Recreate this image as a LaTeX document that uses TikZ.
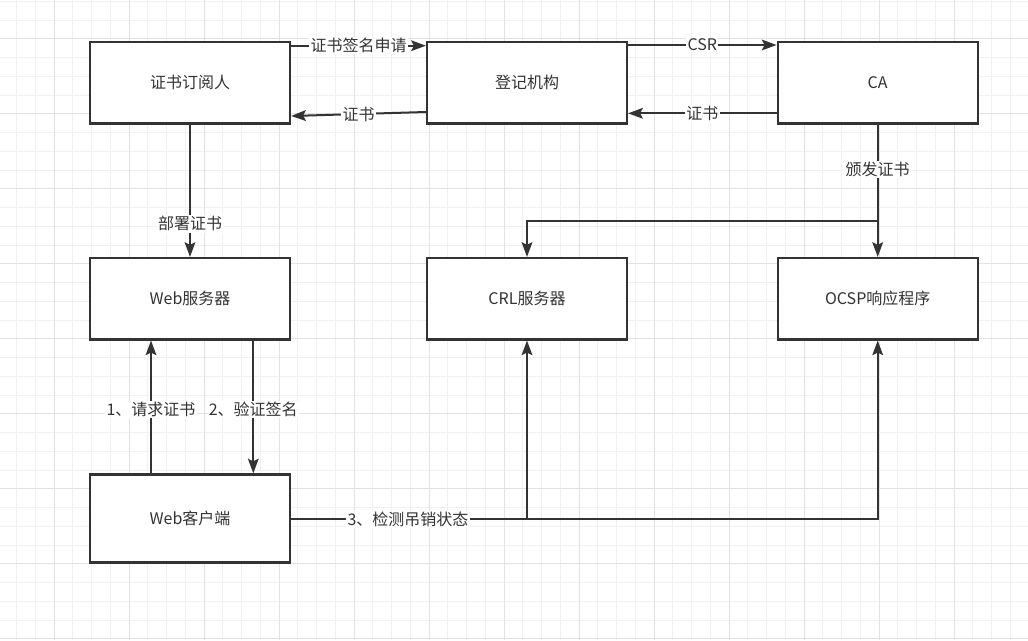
\documentclass[tikz,border=0pt]{standalone}
\usepackage{fontspec}
\newfontfamily\cjk{Noto Sans CJK SC}
\usetikzlibrary{arrows.meta}
\definecolor{ink}{HTML}{333333}
\definecolor{gridminor}{HTML}{F0F0F0}
\definecolor{gridmajor}{HTML}{E2E2E2}
\tikzset{
  box/.style={draw=ink, line width=1.7pt, fill=white, minimum width=150pt, minimum height=61pt, inner sep=0pt, font=\cjk\fontsize{12}{14}\selectfont, text=ink},
  arr/.style={draw=ink, line width=1.5pt, -{Stealth[length=11pt,width=8pt,inset=2pt]}},
  lbl/.style={fill=white, inner sep=1pt, text=ink, font=\cjk\fontsize{12}{14}\selectfont},
  gmin/.style={draw=gridminor, line width=0.75pt},
  gmaj/.style={draw=gridmajor, line width=0.75pt}
}
\begin{document}
\begin{tikzpicture}[x=0.75pt, y=-0.75pt]
\useasboundingbox (0,0) rectangle (1028,640);
\fill[white] (0,0) rectangle (1028,640);
\begin{scope}
\clip (0,0) rectangle (1028,640);
\foreach \i in {0,...,54} {\draw[gmin] ({16.5+18.75*\i},0) -- ({16.5+18.75*\i},640);}
\foreach \i in {0,...,34} {\draw[gmin] (0,{1.3+18.75*\i}) -- (1028,{1.3+18.75*\i});}
\foreach \i in {0,...,13} {\draw[gmaj] ({54+75*\i},0) -- ({54+75*\i},640);}
\foreach \i in {0,...,8} {\draw[gmaj] (0,{38.8+75*\i}) -- (1028,{38.8+75*\i});}
\end{scope}

\node[box] (sub) at (190,82.7) {证书订阅人};
\node[box] (ra) at (527,82.7) {登记机构};
\node[box] (ca) at (877.7,82.7) {CA};
\node[box] (web) at (190,298.7) {Web服务器};
\node[box] (crl) at (527,298.7) {CRL服务器};
\node[box] (ocsp) at (877.7,298.7) {OCSP响应程序};
\node[box, minimum height=66pt] (cli) at (190,518.5) {Web客户端};

% top row
\draw[arr] (sub.east |- 0,45.7) -- node[lbl] {证书签名申请} (ra.west |- 0,45.7);
\draw[arr] (ra.west |- 0,112) -- node[lbl] {证书} (sub.east |- 0,116);
\draw[arr] (ra.east |- 0,45) -- node[lbl] {CSR} (ca.west |- 0,45);
\draw[arr] (ca.west |- 0,113.3) -- node[lbl] {证书} (ra.east |- 0,113.3);

% CA issues
\coordinate (br) at (877.7,221);
\draw[arr] (ca.south) -- node[lbl, pos=0.34] {颁发证书} (ocsp.north);
\draw[arr] (br) -- (br -| crl.north) -- (crl.north);

% deploy
\draw[arr] (sub.south) -- node[lbl, pos=0.75] {部署证书} (web.north);

% web client <-> server
\draw[arr] (cli.north -| 151,0) -- node[lbl, pos=0.48] {1、请求证书} (web.south -| 151,0);
\draw[arr] (web.south -| 253.3,0) -- node[lbl, pos=0.52] {2、验证签名} (cli.north -| 253.3,0);

% revocation check
\coordinate (c1) at (crl.south |- 0,519.3);
\coordinate (c2) at (ocsp.south |- 0,519.3);
\draw[arr] (cli.east |- 0,519.3) -- (c1) -- (crl.south);
\draw[arr] (c1) -- (c2) -- (ocsp.south);
\node[lbl] (l3) at (408,519.3) {3、检测吊销状态};
\end{tikzpicture}
\end{document}
